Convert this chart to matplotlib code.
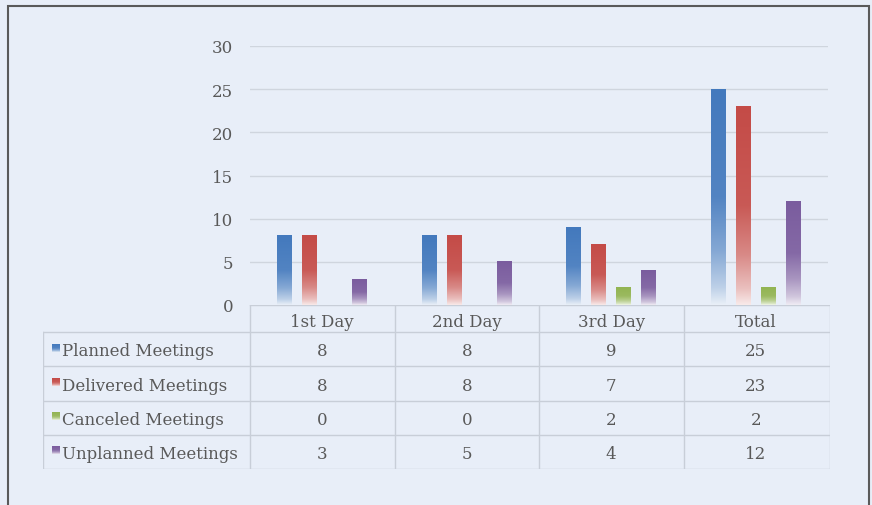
import numpy as np
import matplotlib
matplotlib.use("Agg")
import matplotlib.pyplot as plt
from matplotlib.colors import to_rgb
from matplotlib.patches import Rectangle

# data
categories = ["1st Day", "2nd Day", "3rd Day", "Total"]
series_names = ["Planned Meetings", "Delivered Meetings", "Canceled Meetings", "Unplanned Meetings"]
planned = [8, 8, 9, 25]
delivered = [8, 8, 7, 23]
canceled = [0, 0, 2, 2]
unplanned = [3, 5, 4, 12]
series = [planned, delivered, canceled, unplanned]
colors = ["#4379bd", "#c44b47", "#92b452", "#7a5c9e"]
yticks = [0, 5, 10, 15, 20, 25, 30]

bg = "#e8eef8"
txt = "#595959"
grid_c = "#cfd5de"
font = "DejaVu Serif"
fs = 12

W, H = 872, 506
fig = plt.figure(figsize=(W / 100, H / 100), dpi=100, facecolor=bg)

# plot area (pixel positions from the reference)
L, R, T, B = 250, 828, 47, 306
ax = fig.add_axes([L / W, 1 - B / H, (R - L) / W, (B - T) / H])
ax.set_facecolor("none")
ax.set_xlim(-0.5, len(categories) - 0.5)
ax.set_ylim(0, 30)
for s in ax.spines.values():
    s.set_visible(False)
ax.set_xticks([])
ax.set_yticks(yticks)
ax.set_yticklabels([str(v) for v in yticks], fontfamily=font, fontsize=fs, color=txt)
ax.tick_params(axis="y", length=0, pad=12)
for v in yticks[1:]:
    ax.axhline(v, color=grid_c, lw=1, zorder=0)


def gradient(color, n=200):
    c = np.array(to_rgb(color))
    t = np.linspace(1, 0, n)  # top -> bottom
    w = np.interp(t, [0, 0.08, 0.25, 0.5, 1], [0.12, 0.35, 0.65, 0.92, 1.0])
    img = w[:, None] * c[None, :] + (1 - w[:, None]) * np.ones(3)[None, :]
    return img[:, None, :]


slot = 25 / 144.5
bw = 15 / 144.5
x = np.arange(len(categories))
for i, (vals, col) in enumerate(zip(series, colors)):
    off = (i - 1.5) * slot
    bars = ax.bar(x + off, vals, bw, color="none", edgecolor="none")
    for p in bars:
        h = p.get_height()
        if h <= 0:
            continue
        x0 = p.get_x()
        ax.imshow(gradient(col), extent=[x0, x0 + p.get_width(), 0, h],
                  aspect="auto", zorder=2, interpolation="bilinear")
ax.set_xlim(-0.5, len(categories) - 0.5)
ax.set_ylim(0, 30)

# data table below the plot
TL, TB = 43, 470
ux = 144.5
tax = fig.add_axes([TL / W, 1 - TB / H, (R + 2 - TL) / W, (TB - B) / H])
tax.set_facecolor("none")
tax.axis("off")
x_left = -0.5 - (L - TL) / ux
x_right = len(categories) - 0.5 + 2 / ux
head = 27 / 34.0
nrows = len(series_names)
line_c = "#c8ced8"
lw = 1.0
# horizontal lines
tax.plot([-0.5, x_right], [0, 0], color=line_c, lw=lw)
for r in range(nrows + 1):
    y = head + r
    tax.plot([x_left, x_right], [y, y], color=line_c, lw=lw)
# vertical lines
tax.plot([x_left, x_left], [head, head + nrows], color=line_c, lw=lw)
for k in range(len(categories) + 1):
    xv = -0.5 + k if k < len(categories) else x_right
    tax.plot([xv, xv], [0, head + nrows], color=line_c, lw=lw)
# header
for k, c in enumerate(categories):
    tax.text(k, head / 2 + 0.08, c, ha="center", va="center", fontfamily=font, fontsize=fs, color=txt)
# rows
for r, (name, vals, col) in enumerate(zip(series_names, series, colors)):
    yc = head + r + 0.5
    kx = x_left + 9 / ux
    tax.imshow(gradient(col), extent=[kx, kx + 8 / ux, yc + 0.07, yc - 0.15],
               aspect="auto", interpolation="bilinear")
    tax.text(x_left + 19 / ux, yc + 0.05, name, ha="left", va="center",
             fontfamily=font, fontsize=fs, color=txt)
    for k, v in enumerate(vals):
        tax.text(k, yc + 0.05, str(v), ha="center", va="center",
                 fontfamily=font, fontsize=fs, color=txt)
tax.set_xlim(x_left, x_right)
tax.set_ylim(head + nrows, 0)

# outer chart border (bottom edge falls outside the image)
fig.patches.append(Rectangle((7.5 / W, -3 / H), (869 - 7.5) / W, (H - 6.5 + 3) / H,
                             transform=fig.transFigure, fill=False,
                             edgecolor="#5a5a5a", lw=1.5))

fig.savefig("out.png", dpi=100, facecolor=bg)
